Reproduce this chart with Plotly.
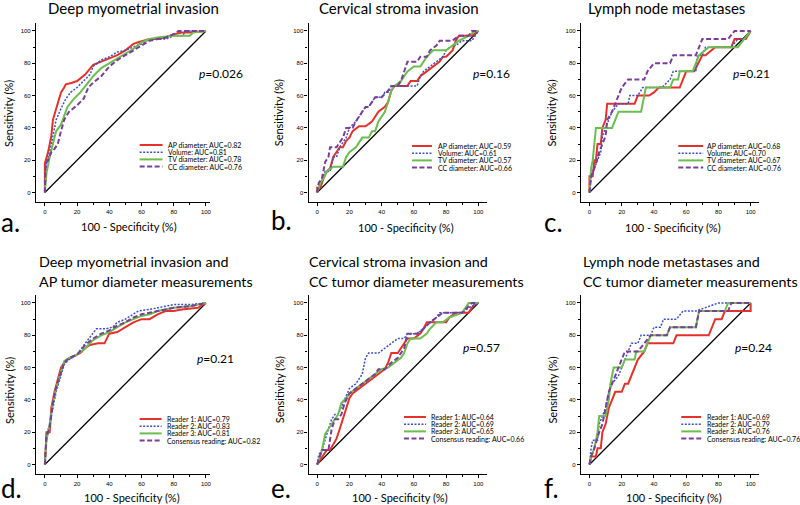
import plotly.graph_objects as go

W, H = 800, 505

# ---------------- data (100-specificity, sensitivity) ----------------
# a. Deep myometrial invasion
a_ap_x = [0, 0, 2, 4, 5, 7, 9, 10, 12, 13, 17, 20, 25, 30, 35, 40, 45, 50, 55, 58, 65, 70, 75, 80, 85, 90, 100]
a_ap_y = [0, 18, 25, 35, 45, 52, 58, 62, 65, 67, 68, 69, 73, 79, 81, 83, 85, 88, 92, 93, 95, 95, 96, 98, 99, 99, 100]
a_vol_x = [0, 1, 3, 5, 7, 10, 13, 16, 20, 25, 28, 30, 35, 40, 45, 50, 55, 60, 65, 75, 80, 85, 88, 100]
a_vol_y = [0, 18, 25, 35, 45, 52, 58, 62, 65, 70, 73, 78, 82, 84, 87, 88, 90, 92, 95, 95, 97, 97, 100, 100]
a_tv_x = [0, 1, 3, 5, 7, 10, 12, 14, 18, 22, 26, 30, 35, 40, 45, 50, 55, 60, 65, 70, 80, 90, 92, 100]
a_tv_y = [0, 12, 22, 30, 38, 42, 48, 53, 58, 62, 67, 72, 77, 80, 83, 86, 89, 93, 95, 96, 97, 97, 99, 100]
a_cc_x = [0, 0.5, 2, 4, 6, 8, 10, 12, 15, 20, 24, 27, 30, 35, 40, 45, 50, 55, 60, 65, 70, 75, 80, 83, 100]
a_cc_y = [0, 18, 20, 25, 27, 30, 38, 45, 50, 54, 58, 65, 68, 72, 78, 82, 85, 88, 91, 94, 95, 96, 98, 100, 100]

# b. Cervical stroma invasion
b_ap_x = [0, 0, 2, 4, 6, 8, 10, 12, 14, 16, 18, 20, 22, 26, 30, 34, 38, 42, 44, 46, 48, 56, 58, 62, 64, 68, 72, 76, 78, 80, 84, 86, 88, 96, 100]
b_ap_y = [0, 3, 3, 9, 13, 15, 22, 25, 28, 28, 32, 34, 38, 41, 41, 44, 50, 53, 56, 63, 66, 66, 69, 69, 72, 75, 78, 81, 84, 84, 88, 94, 97, 97, 100]
b_vol_x = [0, 2, 5, 8, 10, 12, 14, 16, 18, 20, 24, 26, 28, 30, 32, 34, 36, 40, 42, 44, 46, 62, 64, 66, 70, 74, 78, 80, 84, 86, 90, 96, 100]
b_vol_y = [0, 6, 13, 13, 22, 22, 28, 31, 34, 40, 44, 47, 50, 53, 53, 56, 59, 59, 62, 62, 66, 66, 72, 75, 78, 81, 84, 88, 91, 91, 94, 94, 100]
b_tv_x = [0, 2, 4, 6, 10, 16, 18, 20, 24, 28, 32, 34, 36, 38, 40, 42, 44, 46, 48, 52, 54, 56, 60, 64, 66, 68, 72, 80, 84, 88, 94, 98, 100]
b_tv_y = [0, 6, 9, 13, 16, 16, 22, 25, 28, 34, 34, 38, 38, 44, 47, 50, 56, 63, 66, 69, 72, 75, 78, 78, 81, 84, 88, 88, 91, 94, 97, 100, 100]
b_cc_x = [0, 1, 3, 5, 7, 8, 12, 14, 16, 18, 22, 24, 26, 28, 30, 32, 34, 36, 40, 44, 46, 50, 52, 54, 56, 62, 64, 68, 70, 74, 76, 84, 88, 94, 96, 100]
b_cc_y = [0, 6, 9, 19, 22, 28, 28, 31, 34, 40, 40, 44, 47, 50, 53, 53, 56, 59, 59, 63, 66, 66, 69, 75, 81, 81, 84, 84, 88, 91, 94, 94, 97, 97, 100, 100]

# c. Lymph node metastases
c_ap_x = [0, 0, 2, 3, 4, 5, 7, 8, 10, 11, 20, 28, 30, 37, 40, 43, 56, 58, 60, 65, 70, 72, 76, 78, 88, 90, 97, 100]
c_ap_y = [0, 10, 10, 20, 20, 30, 30, 40, 45, 55, 55, 55, 60, 60, 62, 65, 65, 70, 75, 75, 85, 85, 88, 90, 90, 95, 95, 100]
c_vol_x = [0, 1, 3, 5, 7, 8, 10, 12, 14, 18, 24, 25, 30, 33, 45, 50, 52, 66, 67, 70, 72, 88, 92, 96, 100]
c_vol_y = [0, 10, 15, 20, 25, 35, 40, 45, 50, 55, 55, 60, 60, 65, 65, 70, 75, 75, 85, 85, 90, 90, 95, 95, 100]
c_tv_x = [0, 1, 2, 3, 4, 14, 16, 18, 32, 34, 35, 50, 52, 55, 56, 64, 68, 74, 92, 96, 100]
c_tv_y = [0, 15, 20, 30, 40, 40, 45, 50, 50, 60, 65, 65, 70, 70, 75, 75, 85, 90, 90, 95, 100]
c_cc_x = [0, 1, 3, 6, 8, 10, 11, 14, 16, 18, 20, 24, 34, 36, 40, 50, 52, 66, 70, 86, 90, 100]
c_cc_y = [0, 10, 15, 25, 30, 35, 45, 50, 55, 60, 65, 70, 70, 75, 80, 80, 85, 85, 95, 95, 100, 100]

# d. Deep myometrial invasion, AP diameter, readers
d_r1_x = [0, 1, 3, 4, 6, 8, 10, 12, 14, 18, 22, 25, 28, 33, 37, 40, 45, 50, 55, 60, 65, 70, 75, 80, 85, 95, 100]
d_r1_y = [0, 20, 20, 35, 45, 52, 60, 63, 65, 67, 69, 72, 74, 75, 75, 81, 82, 85, 88, 90, 90, 93, 95, 95, 96, 97, 100]
d_r2_x = [0, 1, 3, 5, 7, 10, 12, 15, 20, 25, 28, 32, 38, 42, 45, 50, 58, 65, 75, 80, 90, 100]
d_r2_y = [0, 18, 25, 35, 45, 55, 62, 65, 68, 75, 79, 84, 84, 85, 88, 90, 95, 96, 98, 99, 99, 100]
d_r3_x = [0, 1, 3, 5, 7, 10, 12, 15, 20, 25, 30, 35, 40, 45, 50, 55, 60, 65, 70, 80, 90, 100]
d_r3_y = [0, 15, 25, 38, 47, 58, 64, 66, 68, 72, 77, 80, 82, 85, 88, 90, 92, 93, 95, 97, 98, 100]
d_cons_x = [0, 1, 3, 5, 7, 10, 12, 15, 20, 25, 30, 35, 40, 45, 50, 55, 60, 70, 80, 90, 100]
d_cons_y = [0, 17, 23, 38, 48, 57, 63, 66, 68, 74, 78, 81, 83, 86, 88, 91, 93, 95, 97, 98, 100]

# e. Cervical stroma invasion, CC diameter, readers
e_r1_x = [0, 2, 4, 6, 8, 10, 12, 14, 16, 18, 20, 22, 26, 30, 34, 38, 42, 44, 46, 50, 52, 56, 60, 64, 66, 68, 80, 82, 86, 94, 98, 100]
e_r1_y = [0, 3, 6, 9, 9, 13, 16, 22, 28, 34, 41, 44, 47, 50, 53, 56, 59, 63, 69, 69, 72, 78, 78, 81, 84, 88, 88, 91, 94, 94, 100, 100]
e_r2_x = [0, 1, 3, 5, 7, 9, 11, 13, 16, 20, 24, 26, 28, 30, 32, 38, 42, 46, 50, 54, 56, 62, 66, 70, 74, 76, 90, 94, 100]
e_r2_y = [0, 6, 9, 16, 22, 28, 31, 31, 38, 47, 50, 53, 56, 66, 69, 69, 72, 75, 78, 78, 81, 81, 84, 88, 91, 94, 94, 97, 100]
e_r3_x = [0, 1, 3, 5, 7, 9, 11, 13, 15, 18, 20, 24, 28, 32, 36, 40, 44, 48, 52, 54, 56, 58, 64, 68, 70, 74, 78, 82, 90, 94, 100]
e_r3_y = [0, 3, 9, 19, 22, 25, 28, 31, 38, 41, 44, 47, 50, 53, 56, 59, 60, 63, 66, 69, 75, 78, 78, 81, 84, 88, 88, 91, 94, 100, 100]
e_cons_x = [0, 1, 3, 7, 9, 11, 13, 15, 17, 20, 24, 28, 32, 36, 38, 42, 46, 50, 54, 56, 62, 66, 70, 74, 78, 90, 96, 100]
e_cons_y = [0, 3, 9, 9, 22, 28, 28, 31, 38, 44, 47, 50, 53, 56, 59, 59, 63, 66, 72, 81, 81, 84, 88, 91, 94, 94, 100, 100]

# f. Lymph node metastases, CC diameter, readers
f_r1_x = [0, 1, 4, 5, 7, 8, 10, 12, 14, 16, 20, 22, 24, 26, 28, 30, 34, 36, 52, 54, 74, 76, 78, 82, 84, 100, 100]
f_r1_y = [0, 5, 5, 10, 10, 20, 25, 35, 40, 45, 45, 50, 50, 55, 60, 65, 70, 75, 75, 80, 80, 85, 90, 90, 95, 95, 100]
f_r2_x = [0, 1, 2, 5, 6, 8, 10, 12, 14, 18, 20, 22, 24, 26, 30, 32, 38, 40, 44, 46, 54, 58, 66, 80, 100]
f_r2_y = [0, 10, 15, 15, 25, 30, 35, 45, 50, 55, 60, 65, 70, 75, 75, 80, 80, 85, 85, 90, 90, 95, 95, 100, 100]
f_r3_x = [0, 1, 3, 5, 6, 10, 12, 13, 15, 20, 22, 28, 29, 34, 36, 38, 48, 50, 66, 68, 84, 86, 100]
f_r3_y = [0, 5, 10, 20, 30, 30, 40, 50, 60, 60, 65, 65, 70, 70, 75, 80, 80, 85, 85, 95, 95, 100, 100]
f_cons_x = [0, 1, 3, 6, 8, 10, 12, 14, 16, 18, 20, 22, 30, 34, 38, 48, 50, 66, 68, 86, 88, 100]
f_cons_y = [0, 5, 10, 20, 25, 35, 45, 50, 55, 60, 65, 70, 70, 75, 80, 80, 85, 85, 95, 95, 100, 100]

diag = [0, 100]

labels_a = ["AP diameter: AUC=0.82", "Volume: AUC=0.81", "TV diameter: AUC=0.78", "CC diameter: AUC=0.76"]
labels_b = ["AP diameter: AUC=0.59", "Volume: AUC=0.61", "TV diameter: AUC=0.57", "CC diameter: AUC=0.66"]
labels_c = ["AP diameter: AUC=0.68", "Volume: AUC=0.70", "TV diameter: AUC=0.67", "CC diameter: AUC=0.76"]
labels_d = ["Reader 1: AUC=0.79", "Reader 2: AUC=0.83", "Reader 3: AUC=0.81", "Consensus reading: AUC=0.82"]
labels_e = ["Reader 1: AUC=0.64", "Reader 2: AUC=0.69", "Reader 3: AUC=0.65", "Consensus reading: AUC=0.66"]
labels_f = ["Reader 1: AUC=0.69", "Reader 2: AUC=0.79", "Reader 3: AUC=0.76", "Consensus reading: AUC=0.76"]

p_values = ["0.026", "0.16", "0.21", "0.21", "0.57", "0.24"]

# ---------------- styling ----------------
STYLES = [
    dict(color="#e3312c", width=2, dash="solid"),
    dict(color="#3c4fbf", width=1.5, dash="2px,1.5px"),
    dict(color="#6cbd50", width=2, dash="solid"),
    dict(color="#7a3d99", width=2, dash="5px,2.5px"),
]
FONT = "Lato, 'Open Sans', sans-serif"
TICKFONT = dict(family="Liberation Sans, Arial", size=6, color="black")

# column: (left px, right px, xmin, xmax); row: (top px, bottom px)
COLS = [(36.1, 210.5, -5.5, 102.5), (309.4, 488.1, -5.3, 105.3), (582.4, 761.1, -5.3, 105.3)]
ROWS = [(22.9, 202.2), (294.9, 474.2)]

panels = [
    dict(series=[(a_ap_x, a_ap_y), (a_vol_x, a_vol_y), (a_tv_x, a_tv_y), (a_cc_x, a_cc_y)],
         labels=labels_a, title=["Deep myometrial invasion"], letter="a.",
         title_pos=(134, 8, "center"), p_pos=(197, 73), letter_pos=(0, 222),
         xt_pos=(129, 227), yt_pos=(9, 113), leg=(140, 163, 167, 145)),
    dict(series=[(b_ap_x, b_ap_y), (b_vol_x, b_vol_y), (b_tv_x, b_tv_y), (b_cc_x, b_cc_y)],
         labels=labels_b, title=["Cervical stroma invasion"], letter="b.",
         title_pos=(400, 8, "center"), p_pos=(472, 73), letter_pos=(271, 220),
         xt_pos=(407, 228), yt_pos=(280, 113), leg=(413, 433, 438, 146)),
    dict(series=[(c_ap_x, c_ap_y), (c_vol_x, c_vol_y), (c_tv_x, c_tv_y), (c_cc_x, c_cc_y)],
         labels=labels_c, title=["Lymph node metastases"], letter="c.",
         title_pos=(668, 8, "center"), p_pos=(733, 73), letter_pos=(544, 222),
         xt_pos=(675, 228), yt_pos=(553, 113), leg=(680, 705, 708, 146)),
    dict(series=[(d_r1_x, d_r1_y), (d_r2_x, d_r2_y), (d_r3_x, d_r3_y), (d_cons_x, d_cons_y)],
         labels=labels_d, title=["Deep myometrial invasion and", "AP tumor diameter measurements"], letter="d.",
         title_pos=(37, 261, "left"), p_pos=(195, 358), letter_pos=(0, None),
         xt_pos=(132, 497), yt_pos=(9, 390), leg=(140, 162, 166, 419)),
    dict(series=[(e_r1_x, e_r1_y), (e_r2_x, e_r2_y), (e_r3_x, e_r3_y), (e_cons_x, e_cons_y)],
         labels=labels_e, title=["Cervical stroma invasion and", "CC tumor diameter measurements"], letter="e.",
         title_pos=(308, 261, "left"), p_pos=(462, 347), letter_pos=(271, None),
         xt_pos=(401, 497), yt_pos=(280, 390), leg=(405, 427, 431, 417)),
    dict(series=[(f_r1_x, f_r1_y), (f_r2_x, f_r2_y), (f_r3_x, f_r3_y), (f_cons_x, f_cons_y)],
         labels=labels_f, title=["Lymph node metastases and", "CC tumor diameter measurements"], letter="f.",
         title_pos=(582, 261, "left"), p_pos=(735, 347), letter_pos=(544, None),
         xt_pos=(676, 497), yt_pos=(553, 390), leg=(683, 703, 708, 417)),
]


def px(x):
    return x / W


def py(y):
    return 1 - y / H


fig = go.Figure()
layout = dict(width=W, height=H, margin=dict(l=0, r=0, t=0, b=0),
              plot_bgcolor="white", paper_bgcolor="white", showlegend=False)
annotations = []
shapes = []
LEG_STEP = 7.2

for i, p in enumerate(panels):
    row, col = divmod(i, 3)
    left, right, xmin, xmax = COLS[col]
    top, bottom = ROWS[row]
    n = i + 1
    xa, ya = ("x%d" % n if n > 1 else "x"), ("y%d" % n if n > 1 else "y")
    axis_common = dict(showline=True, linecolor="black", linewidth=1.3, ticks="outside",
                       ticklen=3, tickwidth=1, tickcolor="black", tickvals=[0, 20, 40, 60, 80, 100],
                       minor=dict(ticks="outside", ticklen=2, dtick=10, tick0=0, tickcolor="black"),
                       showgrid=False, zeroline=False, tickfont=TICKFONT, fixedrange=True)
    layout["xaxis%d" % n if n > 1 else "xaxis"] = dict(
        axis_common, domain=[px(left), px(right)], range=[xmin, xmax], anchor=ya)
    layout["yaxis%d" % n if n > 1 else "yaxis"] = dict(
        axis_common, domain=[py(bottom), py(top)], range=[-6, 105], anchor=xa)

    fig.add_trace(go.Scatter(x=diag, y=diag, mode="lines", xaxis=xa, yaxis=ya,
                             line=dict(color="black", width=1.2), hoverinfo="skip"))
    for (sx, sy), st, lab in zip(p["series"], STYLES, p["labels"]):
        fig.add_trace(go.Scatter(x=sx, y=sy, mode="lines", name=lab, xaxis=xa, yaxis=ya,
                                 line=dict(color=st["color"], width=st["width"], dash=st["dash"])))

    # legend block
    lx0, lx1, tx, ly = p["leg"]
    for k, (st, lab) in enumerate(zip(STYLES, p["labels"])):
        yy = ly + k * LEG_STEP
        shapes.append(dict(type="line", xref="paper", yref="paper", x0=px(lx0), x1=px(lx1),
                           y0=py(yy), y1=py(yy),
                           line=dict(color=st["color"], width=st["width"], dash=st["dash"])))
        annotations.append(dict(text=lab, x=px(tx), y=py(yy), xref="paper", yref="paper",
                                xanchor="left", yanchor="middle", showarrow=False, borderpad=0,
                                font=dict(family=FONT, size=7, color="black")))

    # titles
    tx0, ty0, align = p["title_pos"]
    tsize = 15 if len(p["title"]) == 1 else 14.3
    for k, line in enumerate(p["title"]):
        annotations.append(dict(text=line, x=px(tx0), y=py(ty0 + 20 * k), xref="paper", yref="paper",
                                xanchor=align, yanchor="middle", showarrow=False,
                                font=dict(family=FONT, size=tsize, color="black")))
    # p value
    annotations.append(dict(text="<i>p</i>=" + p_values[i], x=px(p["p_pos"][0]), y=py(p["p_pos"][1]),
                            xref="paper", yref="paper", xanchor="left", yanchor="middle",
                            showarrow=False, font=dict(family=FONT, size=12, color="black")))
    # panel letter (bottom-row letters sit on the lower edge of the figure)
    lx, ly_letter = p["letter_pos"]
    if ly_letter is None:
        letter_y, letter_anchor = 0, "bottom"
    else:
        letter_y, letter_anchor = py(ly_letter), "middle"
    annotations.append(dict(text=p["letter"], x=px(lx), y=letter_y,
                            xref="paper", yref="paper", xanchor="left", yanchor=letter_anchor,
                            showarrow=False, borderpad=0,
                            font=dict(family=FONT, size=26, color="black")))
    # axis titles
    annotations.append(dict(text="100 - Specificity (%)", x=px(p["xt_pos"][0]), y=py(p["xt_pos"][1]),
                            xref="paper", yref="paper", xanchor="center", yanchor="middle",
                            showarrow=False, font=dict(family=FONT, size=11, color="black")))
    annotations.append(dict(text="Sensitivity (%)", x=px(p["yt_pos"][0]), y=py(p["yt_pos"][1]),
                            xref="paper", yref="paper", xanchor="center", yanchor="middle",
                            textangle=-90, showarrow=False,
                            font=dict(family=FONT, size=11, color="black")))

layout["annotations"] = annotations
layout["shapes"] = shapes
fig.update_layout(**layout)

# the page body keeps its default 8px margin; drop it so the 800x505 figure fills the window
fig.write_html("out.html", config={"displayModeBar": False},
               post_script="document.body.style.margin='0px';")
